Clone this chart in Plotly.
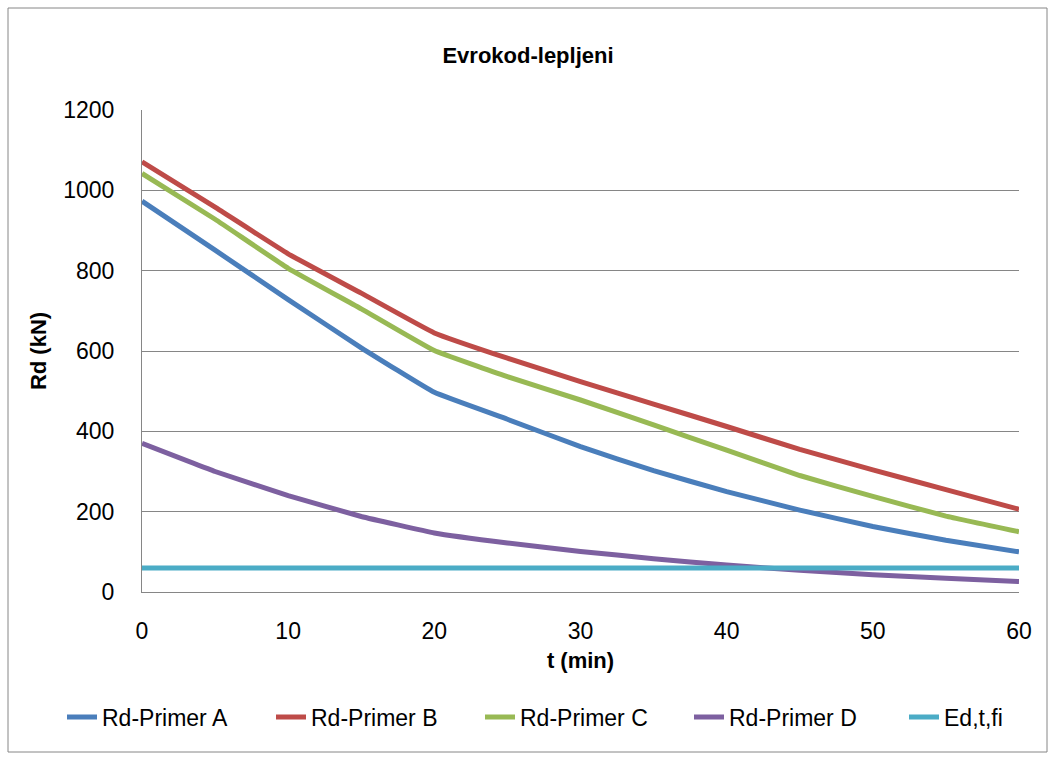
import plotly.graph_objects as go

t_min = [0, 5, 10, 15, 20, 25, 30, 35, 40, 45, 50, 55, 60]
rd_a = [973, 851, 728, 608, 497, 430, 362, 302, 250, 204, 163, 129, 100]
rd_b = [1071, 958, 842, 744, 645, 582, 524, 468, 412, 355, 304, 255, 206]
rd_c = [1042, 928, 806, 705, 601, 536, 478, 416, 353, 290, 238, 189, 150]
rd_d = [370, 300, 240, 188, 147, 122, 101, 83, 67, 54, 43, 34, 26]
ed_t_fi = [60] * len(t_min)

series = [
    ("Rd-Primer A", rd_a, "#4A7EBB", "legend"),
    ("Rd-Primer B", rd_b, "#BE4B48", "legend"),
    ("Rd-Primer C", rd_c, "#98B954", "legend"),
    ("Rd-Primer D", rd_d, "#7D60A0", "legend"),
    ("Ed,t,fi", ed_t_fi, "#4BACC6", "legend2"),
]

FONT = "Liberation Sans"
fig = go.Figure()
for name, vals, color, leg in series:
    fig.add_trace(go.Scatter(x=t_min, y=vals, name=name, mode="lines", legend=leg,
                             line=dict(color=color, width=5, shape="spline", smoothing=0.3)))

L, R, T, B = 142, 37, 110, 168
W, H = 1056, 760
pw, ph = W - L - R, H - T - B

leg_common = dict(orientation="h", xref="container", yref="container",
                  xanchor="left", y=1 - 717 / H, yanchor="middle",
                  font=dict(size=23, family=FONT), bgcolor="rgba(0,0,0,0)",
                  entrywidth=164, entrywidthmode="pixels")

fig.update_layout(
    width=W, height=H,
    margin=dict(l=L, r=R, t=T, b=B, autoexpand=False),
    paper_bgcolor="white", plot_bgcolor="white",
    font=dict(family=FONT, size=23, color="black"),
    title=dict(text="<b>Evrokod-lepljeni</b>", x=0.5, xanchor="center",
               y=1 - 55 / H, yanchor="middle", font=dict(size=22, family=FONT)),
    showlegend=True,
    legend=dict(x=62 / W, **leg_common),
    legend2=dict(x=904 / W, **leg_common),
    xaxis=dict(range=[0, 60], tickvals=[0, 10, 20, 30, 40, 50, 60], showgrid=False,
               zeroline=False, showline=True, linecolor="#868686", linewidth=1,
               ticks="", ticklen=0, ticklabelstandoff=18,
               title=dict(text="<b>t (min)</b>", font=dict(size=22, family=FONT), standoff=10)),
    yaxis=dict(range=[0, 1200], tickvals=[0, 200, 400, 600, 800, 1000, 1200], showgrid=True,
               gridcolor="#868686", gridwidth=1, zeroline=False, showline=True,
               linecolor="#868686", linewidth=1, ticks="", ticklen=0, ticklabelstandoff=22,
               title=dict(text="<b>Rd (kN)</b>", font=dict(size=22, family=FONT), standoff=10)),
)

# outer chart border
fig.add_shape(type="rect", xref="paper", yref="paper",
              x0=(8 - L) / pw, x1=(1047 - L) / pw,
              y0=(592 - 752) / ph, y1=(592 - 8) / ph,
              line=dict(color="#868686", width=1), fillcolor="rgba(0,0,0,0)", layer="below")

fig.write_html("out.html")
